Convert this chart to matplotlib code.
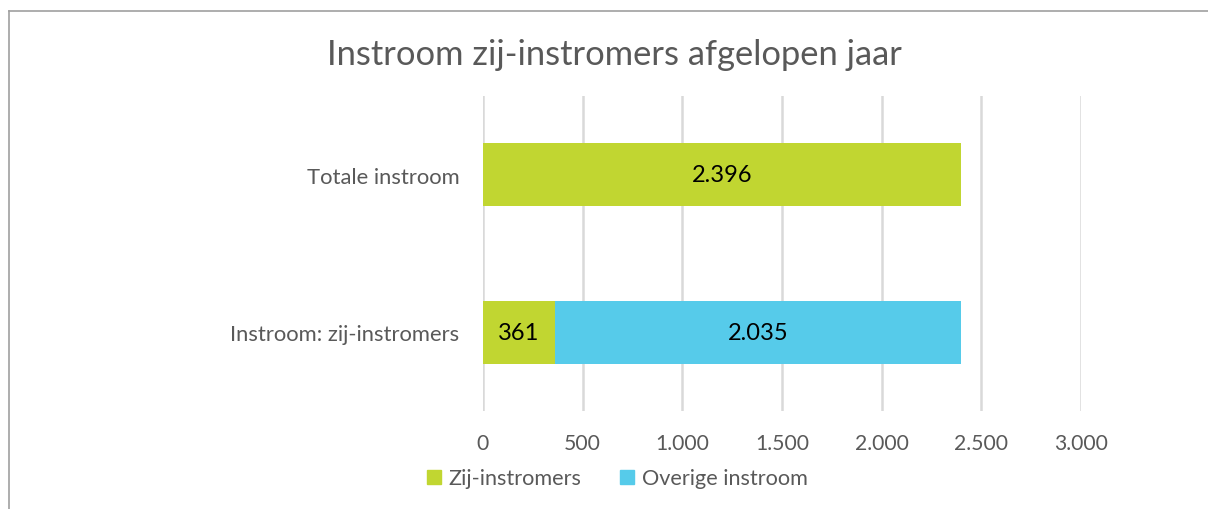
import matplotlib.pyplot as plt
from matplotlib.lines import Line2D
from matplotlib.patches import Patch
from matplotlib.ticker import FuncFormatter

categories = ["Instroom: zij-instromers", "Totale instroom"]
zij_instromers = [361, 2396]
overige_instroom = [2035, 0]
series_names = ["Zij-instromers", "Overige instroom"]
x_ticks = [0, 500, 1000, 1500, 2000, 2500, 3000]

green = "#C1D631"
blue = "#56CBEA"
grey_text = "#595959"

plt.rcParams['font.family'] = ['Lato', 'DejaVu Sans']


def nl(v):
    return f"{int(v):,}".replace(",", ".")


fig = plt.figure(figsize=(12.08, 5.10), dpi=100)
ax = fig.add_axes([0.3998, 0.1922, 0.4951, 0.6176])

y = range(len(categories))
ax.barh(y, zij_instromers, height=0.4, color=green, zorder=3)
ax.barh(y, overige_instroom, left=zij_instromers, height=0.4, color=blue, zorder=3)

# data labels
for i in y:
    ax.text(zij_instromers[i] / 2, i, nl(zij_instromers[i]), ha="center", va="center",
            fontsize=17, color="black", zorder=4)
    if overige_instroom[i] > 0:
        ax.text(zij_instromers[i] + overige_instroom[i] / 2, i, nl(overige_instroom[i]),
                ha="center", va="center", fontsize=17, color="black", zorder=4)

ax.set_xlim(0, 3000)
ax.set_ylim(-0.5, 1.5)
ax.set_xticks(x_ticks)
ax.xaxis.set_major_formatter(FuncFormatter(lambda v, p: nl(v)))
ax.set_yticks(list(y))
ax.set_yticklabels(categories)
ax.tick_params(axis="both", length=0, colors=grey_text)
ax.tick_params(axis="x", pad=16, labelsize=15.2)
ax.tick_params(axis="y", pad=17, labelsize=15.8)
ax.grid(axis="x", color="#D9D9D9", linewidth=1.8, zorder=0)
for s in ax.spines.values():
    s.set_visible(False)

fig.text(0.509, 0.892, "Instroom zij-instromers afgelopen jaar", ha="center", va="center",
         fontsize=24.8, color=grey_text)

handles = [Patch(color=green), Patch(color=blue)]
fig.legend(handles, series_names, loc="center", bbox_to_anchor=(0.511, 0.06), ncol=2,
           frameon=False, fontsize=15.6, labelcolor=grey_text, handlelength=0.65,
           handleheight=0.65, handletextpad=0.35, columnspacing=1.8)

# outer chart border (only top and left visible in the crop)
fig.add_artist(Line2D([9 / 1208, 9 / 1208], [0, 1 - 12 / 510], transform=fig.transFigure,
                      color="#A0A0A0", linewidth=1.2))
fig.add_artist(Line2D([9 / 1208, 1], [1 - 12 / 510, 1 - 12 / 510], transform=fig.transFigure,
                      color="#A0A0A0", linewidth=1.2))

fig.savefig("out.png", dpi=100)
